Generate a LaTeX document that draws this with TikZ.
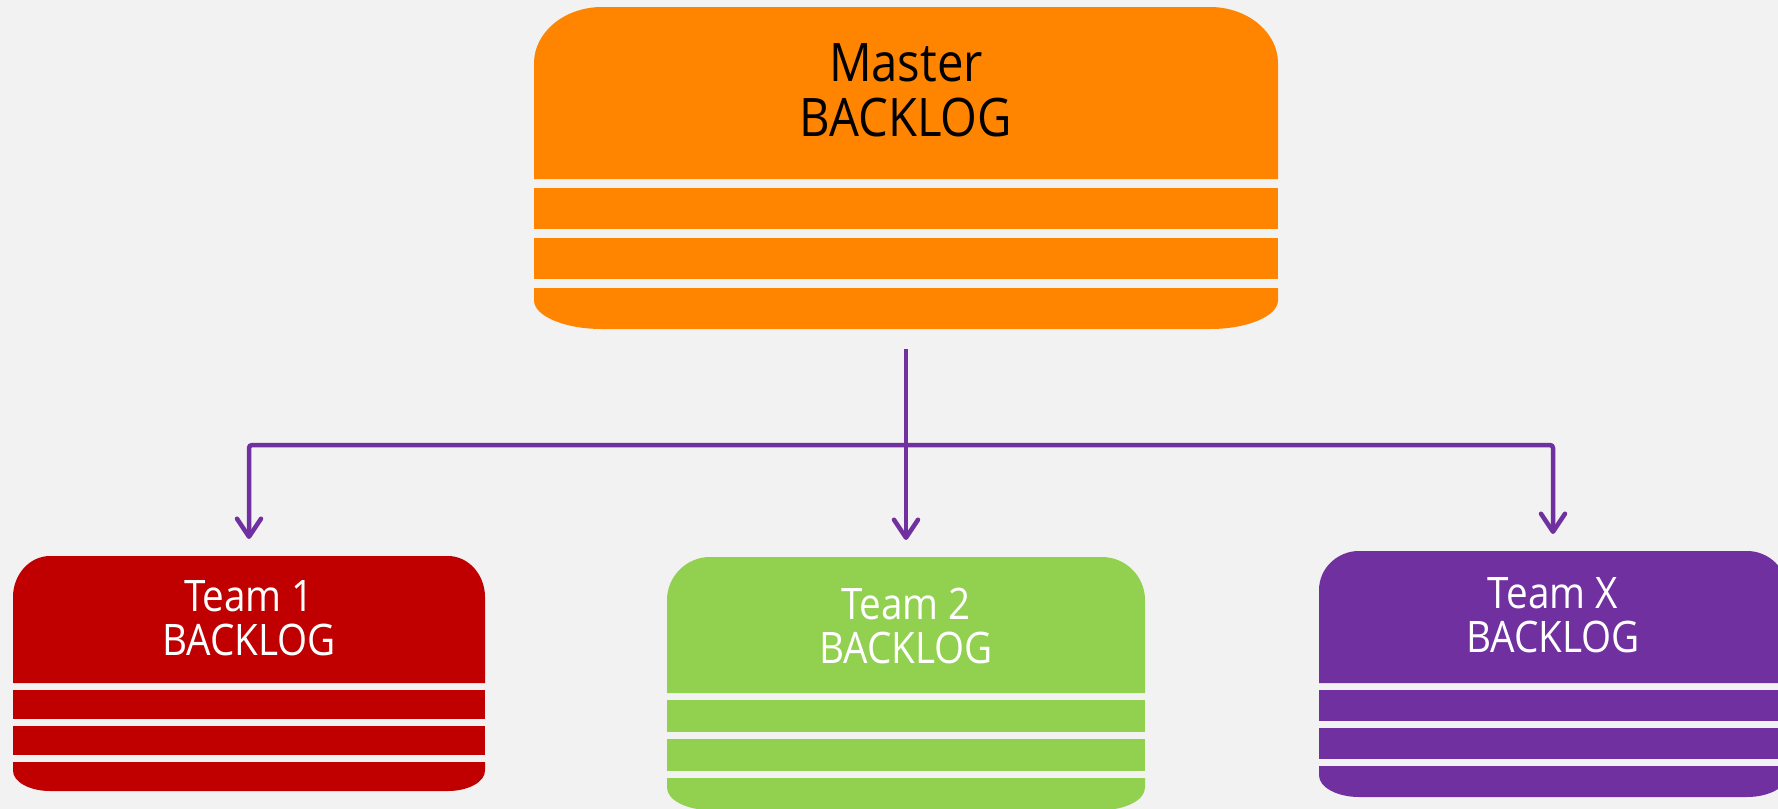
\documentclass[tikz,border=0pt]{standalone}
\usepackage{fontspec}
\setmainfont{Open Sans}[FakeStretch=0.89]
\usetikzlibrary{arrows.meta}
\definecolor{bggray}{HTML}{F2F2F2}
\definecolor{masterorange}{HTML}{FF8400}
\definecolor{team1red}{HTML}{C00000}
\definecolor{team2green}{HTML}{92D050}
\definecolor{teamxpurple}{HTML}{7030A0}
\tikzset{
    flow/.style={draw=teamxpurple, line width=0.045cm, rounded corners=0.03cm},
    mastertext/.style={anchor=north, inner sep=0pt, align=center, font=\fontsize{15.1}{15.65}\selectfont},
    teamtext/.style={anchor=north, inner sep=0pt, align=center, text=white, font=\fontsize{12.35}{12.5}\selectfont}
}
\begin{document}
\begin{tikzpicture}[x=0.01cm, y=-0.01cm, >={Straight Barb[length=0.18cm, width=0.24cm, round]}]
        \useasboundingbox (0,0) rectangle (1778,809);
        \fill[bggray] (0,0) rectangle (1778,809);
        \clip (0,0) rectangle (1778,809);
        \foreach \nm/\xa/\xb/\ya/\yh/\band/\gap/\rx/\ry/\col in {
            master/534/1278/7/179/41/9/68/56/masterorange,
            team1/13/485/556/683/29/7/37/41/team1red,
            team2/667/1145/557/693/32/7/43/43/team2green,
            teamx/1319/1787/551/683/31/7/40/39/teamxpurple}
        {
            \pgfmathsetmacro\ys{\yh+3*\gap+2*\band}
            \pgfmathsetmacro\ye{\ys+\band}
            \pgfmathsetmacro\rb{0.7*\band}
            \fill[\col] (\xa,\yh) -- (\xa,\ya+\ry) .. controls (\xa,\ya+0.45*\ry) and (\xa+0.45*\rx,\ya) .. (\xa+\rx,\ya)
                -- (\xb-\rx,\ya) .. controls (\xb-0.45*\rx,\ya) and (\xb,\ya+0.45*\ry) .. (\xb,\ya+\ry) -- (\xb,\yh) -- cycle;
            \fill[\col] (\xa,\yh+\gap) rectangle (\xb,\yh+\gap+\band);
            \fill[\col] (\xa,\yh+2*\gap+\band) rectangle (\xb,\yh+2*\gap+2*\band);
            \fill[\col] (\xa,\ys) -- (\xa,\ye-\rb) .. controls (\xa,\ye-0.45*\rb) and (\xa+0.45*\rx,\ye) .. (\xa+\rx,\ye)
                -- (\xb-\rx,\ye) .. controls (\xb-0.45*\rx,\ye) and (\xb,\ye-0.45*\rb) .. (\xb,\ye-\rb) -- (\xb,\ys) -- cycle;
            \coordinate (\nm-top) at ({(\xa+\xb)/2},\ya);
            \coordinate (\nm-bot) at ({(\xa+\xb)/2},\ye);
        }
        \node[mastertext] (master) at (906,43) {Master\\BACKLOG};
        \node[teamtext] (team1) at (249,580) {Team 1\\BACKLOG};
        \node[teamtext] (team2) at (906,587) {Team 2\\BACKLOG};
        \node[teamtext] (teamx) at (1553,577) {Team X\\BACKLOG};
        \coordinate (bus) at (906,445);
        \draw[flow, ->, shorten <=0.2cm, shorten >=0.17cm] (master-bot) -- (team2-top);
        \draw[flow, <->, shorten <=0.17cm, shorten >=0.17cm] (team1-top) |- (bus) -| (teamx-top);
\end{tikzpicture}
\end{document}
